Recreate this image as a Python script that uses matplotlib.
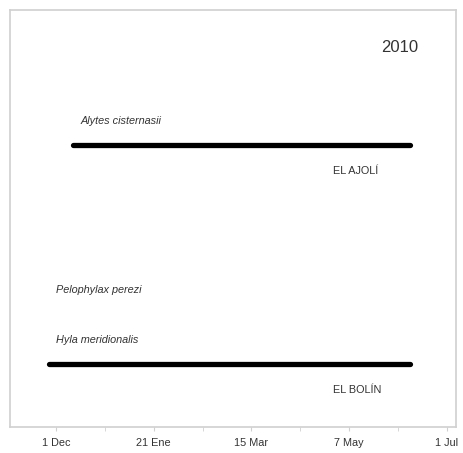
import matplotlib.pyplot as plt

plt.rcParams['font.family'] = ['Liberation Sans', 'DejaVu Sans']

# days counted from 1 Dec 2009
tick_days = [0, 53, 106, 159, 212]
tick_labels = ['1 Dec', '21 Ene', '15 Mar', '7 May', '1 Jul']

species = ['Alytes cisternasii', 'Pelophylax perezi', 'Hyla meridionalis']
species_y = [73.4, 32.9, 20.9]

sites = ['EL AJOLÍ', 'EL BOLÍN']
site_start = [9, -4]
site_end = [192, 192]
site_y = [67.6, 15.1]

year = '2010'

fig = plt.figure(figsize=(4.63, 4.53), dpi=100)
ax = fig.add_axes([10 / 463, 26 / 453, 446 / 463, 417 / 453])
ax.set_xlim(-25, 217)
ax.set_ylim(0, 100)

for s in ax.spines.values():
    s.set_color('#d0d0d0')
    s.set_linewidth(1.2)

for start, end, y in zip(site_start, site_end, site_y):
    ax.plot([start, end], [y, y], color='black', lw=3.8, solid_capstyle='round')

for name, y in zip(species, species_y):
    x = 13 if name.startswith('Alytes') else 0
    ax.text(x, y, name, fontsize=7.8, style='italic', color='#333333',
            va='center', ha='left')

for name, y in zip(sites, site_y):
    ax.text(150, y - 6.2, name, fontsize=7.8, color='#333333',
            va='center', ha='left')

ax.text(176.5, 91, year, fontsize=12, color='#333333', va='center', ha='left')

ax.set_yticks([])
ax.set_xticks(tick_days)
ax.set_xticks([(a + b) / 2 for a, b in zip(tick_days[:-1], tick_days[1:])],
              minor=True)
ax.set_xticklabels(tick_labels, fontsize=7.8, color='#333333')
ax.tick_params(axis='x', which='both', length=3, color='#d0d0d0', pad=5)

fig.savefig('out.png', dpi=100)
